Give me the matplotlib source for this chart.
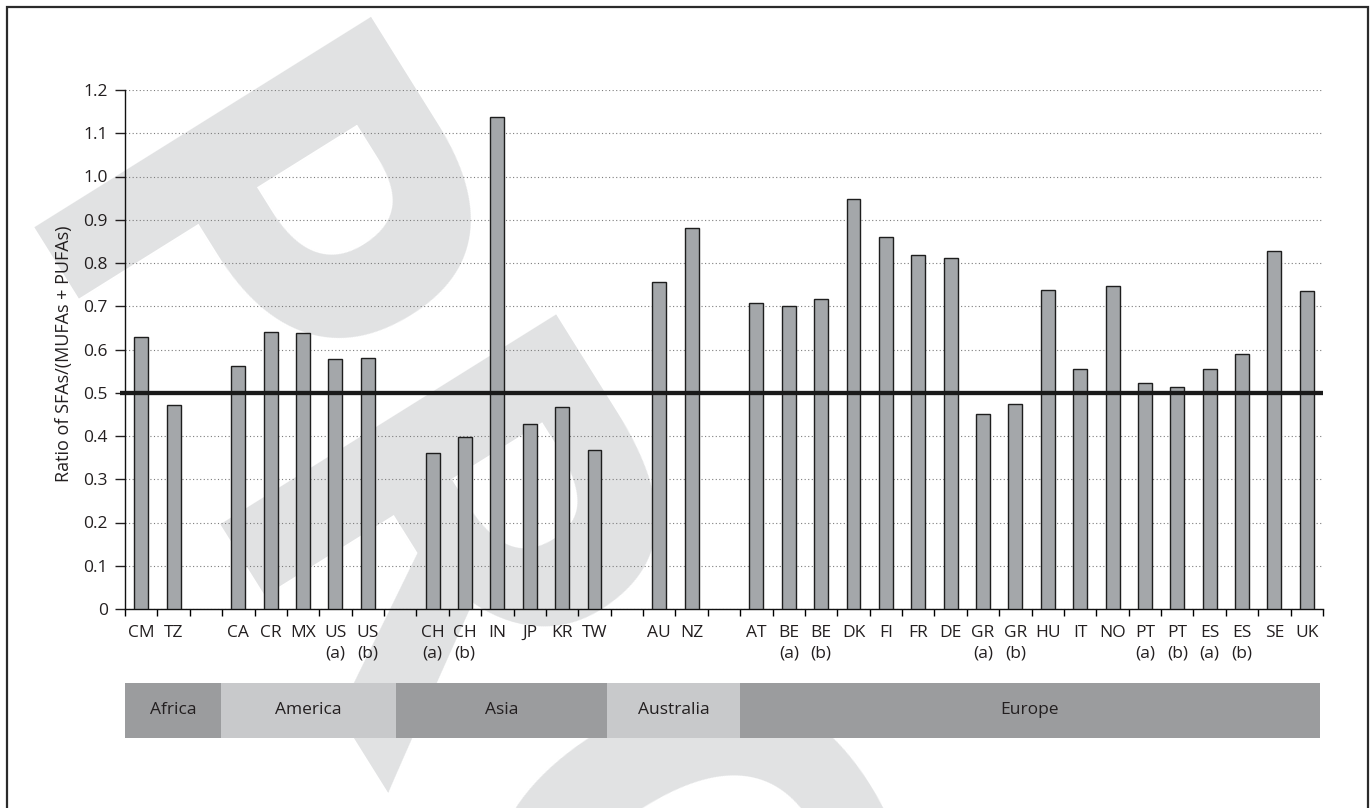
import numpy as np
import matplotlib.pyplot as plt
from matplotlib.patches import Rectangle

plt.rcParams['font.family'] = ['Open Sans', 'DejaVu Sans']

# country codes, one bar each, grouped by region
countries = ["CM", "TZ",
             "CA", "CR", "MX", "US\n(a)", "US\n(b)",
             "CH\n(a)", "CH\n(b)", "IN", "JP", "KR", "TW",
             "AU", "NZ",
             "AT", "BE\n(a)", "BE\n(b)", "DK", "FI", "FR", "DE", "GR\n(a)", "GR\n(b)",
             "HU", "IT", "NO", "PT\n(a)", "PT\n(b)", "ES\n(a)", "ES\n(b)", "SE", "UK"]
ratios = [0.630, 0.471,
          0.562, 0.640, 0.637, 0.578, 0.581,
          0.361, 0.397, 1.137, 0.428, 0.468, 0.367,
          0.755, 0.880,
          0.708, 0.701, 0.717, 0.949, 0.861, 0.819, 0.812, 0.451, 0.474,
          0.738, 0.556, 0.747, 0.523, 0.513, 0.556, 0.589, 0.828, 0.735]
regions = ["Africa", "America", "Asia", "Australia", "Europe"]
region_sizes = [2, 5, 6, 2, 18]
band_edges = [0, 2.98, 8.37, 14.9, 18.98, 36.9]
threshold = 0.5

W, H = 1370, 808
fig = plt.figure(figsize=(W / 100, H / 100), dpi=100)
fig.patch.set_facecolor('white')

# slot positions: one empty slot between regions
pos = []
start = 0
for n in region_sizes:
    pos.extend(range(start, start + n))
    start += n + 1
pos = np.array(pos)
n_slots = start - 1

# "PROOF" stamp behind the chart, set letter by letter along a slanted baseline
ang = np.deg2rad(-58)
along = np.array([np.cos(ang), -np.sin(ang)])   # pixel space, y down
up = np.array([along[1], -along[0]])             # towards the cap line
origin = np.array([7.0, 264.0])
letters = [("P", -45, 0), ("R", 305, 0), ("O", 692, 25), ("O", 1100, 25), ("F", 1510, 0)]
for ch, off, lift in letters:
    px, py = origin + off * along + lift * up
    fig.text(px / W, 1 - py / H, ch, rotation=-58, rotation_mode='anchor',
             ha='left', va='baseline', fontsize=400, fontweight='bold',
             color='#e1e2e3', zorder=-1)

# outer frame
fig.add_artist(Rectangle((7 / W, -0.1), (1368 - 7) / W, 1 - 7 / H + 0.1,
                         transform=fig.transFigure, fill=False,
                         edgecolor='#2b2b2b', linewidth=1.6))

ax = fig.add_axes([125 / W, 1 - 609 / H, 1198 / W, 519 / H])
ax.set_facecolor('none')
ax.bar(pos + 0.5, ratios, width=0.43, color='#a4a7aa', edgecolor='#1e1e1e',
       linewidth=1.0, zorder=3)
ax.plot([-0.15, n_slots], [threshold, threshold], color='#1a1a1a', lw=3.1,
        clip_on=False, zorder=4, solid_capstyle='butt')

ax.set_xlim(0, n_slots)
ax.set_ylim(0, 1.2)
ax.set_axisbelow(True)
ax.yaxis.grid(True, linestyle=(0, (1, 2.2)), color='#7d7d7d', linewidth=0.8)

yt = np.round(np.arange(0, 1.21, 0.1), 1)
ax.set_yticks(yt)
ax.set_yticklabels(['0'] + [f'{v:.1f}' for v in yt[1:]])
ax.set_xticks(np.arange(0, n_slots + 1))
ax.set_xticklabels([])
ax.set_xticks(pos + 0.5, minor=True)
ax.set_xticklabels(countries, minor=True, linespacing=1.4)
ax.tick_params(axis='y', direction='out', length=7, width=1, pad=5.5,
               labelsize=12.5, colors='#231f20')
ax.tick_params(axis='x', which='major', direction='out', length=5, width=1)
ax.tick_params(axis='x', which='minor', length=0, pad=11.5, labelsize=12.5,
               labelcolor='#231f20')
for s in ['top', 'right']:
    ax.spines[s].set_visible(False)
for s in ['left', 'bottom']:
    ax.spines[s].set_linewidth(1.0)
    ax.spines[s].set_color('#111111')
ax.set_ylabel("Ratio of SFAs/(MUFAs + PUFAs)", fontsize=13, color='#231f20')
ax.yaxis.set_label_coords((73 - 125) / 1198, 0.492)

# region bands under the country labels
bx = fig.add_axes([125 / W, 1 - 738 / H, 1198 / W, 55 / H])
bx.set_facecolor('none')
bx.set_xlim(0, n_slots)
bx.set_ylim(0, 1)
bx.axis('off')
band_colors = ['#9b9c9e', '#c8c9cb', '#9b9c9e', '#c8c9cb', '#9b9c9e']
for name, a, b, c in zip(regions, band_edges[:-1], band_edges[1:], band_colors):
    bx.axvspan(a, b, color=c, lw=0)
    bx.text((a + b) / 2, 0.5, name, ha='center', va='center', fontsize=12.5,
            color='#231f20')

fig.savefig('out.png', dpi=100)
